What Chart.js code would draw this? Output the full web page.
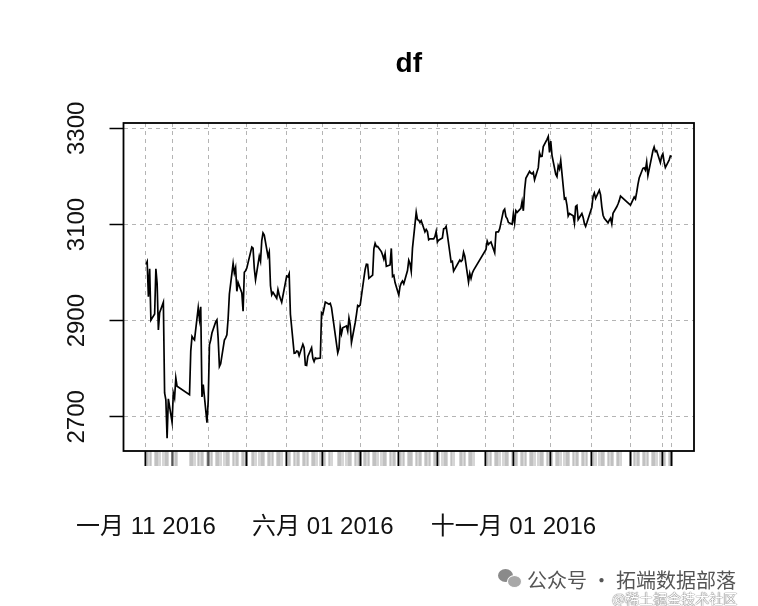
<!DOCTYPE html>
<html>
<head>
<meta charset="utf-8">
<script src="https://cdn.jsdelivr.net/npm/chart.js@4.4.0/dist/chart.umd.min.js"></script>
<style>
  body { margin: 0; background: #fff; }
  #wrap { position: relative; width: 758px; height: 606px; overflow: hidden; }
  .wm1 { position: absolute; left: 527px; top: 565px; font: 20px 'Noto Sans CJK SC', sans-serif; color: #555; white-space: nowrap; }
  .wm2 { position: absolute; left: 612px; top: 588px; font: 14px 'Noto Sans CJK SC', sans-serif; color: #fff; text-shadow: 0 0 1px #555, 0 0 1px #555; white-space: nowrap; }
  .ico1 { position: absolute; left: 498px; top: 569px; width: 15px; height: 13px; border-radius: 50%; background: #8a8a8a; }
  .ico2 { position: absolute; left: 507px; top: 575px; width: 13px; height: 11px; border-radius: 50%; background: #a8a8a8; border: 1px solid #fff; }
</style>
</head>
<body>
<div id="wrap">
  <canvas id="dfChart" width="758" height="606"></canvas>
  <span class="ico1"></span><span class="ico2"></span>
  <div class="wm1">公众号 · 拓端数据部落</div>
  <div class="wm2">@稀土掘金技术社区</div>
</div>
<script>
// trading days and closing values
var dates = [
  '2016-01-11','2016-01-12','2016-01-13','2016-01-14','2016-01-15','2016-01-18','2016-01-19','2016-01-20','2016-01-21','2016-01-22',
  '2016-01-25','2016-01-26','2016-01-27','2016-01-28','2016-01-29',
  '2016-02-01','2016-02-02','2016-02-03','2016-02-04','2016-02-05','2016-02-15','2016-02-16','2016-02-17','2016-02-18','2016-02-19',
  '2016-02-22','2016-02-23','2016-02-24','2016-02-25','2016-02-26','2016-02-29',
  '2016-03-01','2016-03-02','2016-03-03','2016-03-04','2016-03-07','2016-03-08','2016-03-09','2016-03-10','2016-03-11','2016-03-14',
  '2016-03-15','2016-03-16','2016-03-17','2016-03-18','2016-03-21','2016-03-22','2016-03-23','2016-03-24','2016-03-25','2016-03-28',
  '2016-03-29','2016-03-30','2016-03-31',
  '2016-04-01','2016-04-05','2016-04-06','2016-04-07','2016-04-08','2016-04-11','2016-04-12','2016-04-13','2016-04-14','2016-04-15',
  '2016-04-18','2016-04-19','2016-04-20','2016-04-21','2016-04-22','2016-04-25','2016-04-26','2016-04-27','2016-04-28','2016-04-29',
  '2016-05-03','2016-05-04','2016-05-05','2016-05-06','2016-05-09','2016-05-10','2016-05-11','2016-05-12','2016-05-13','2016-05-16',
  '2016-05-17','2016-05-18','2016-05-19','2016-05-20','2016-05-23','2016-05-24','2016-05-25','2016-05-26','2016-05-27','2016-05-30',
  '2016-05-31',
  '2016-06-01','2016-06-02','2016-06-03','2016-06-06','2016-06-07','2016-06-08','2016-06-13','2016-06-14','2016-06-15','2016-06-16',
  '2016-06-17','2016-06-20','2016-06-21','2016-06-22','2016-06-23','2016-06-24','2016-06-27','2016-06-28','2016-06-29','2016-06-30',
  '2016-07-01','2016-07-04','2016-07-05','2016-07-06','2016-07-07','2016-07-08','2016-07-11','2016-07-12','2016-07-13','2016-07-14',
  '2016-07-15','2016-07-18','2016-07-19','2016-07-20','2016-07-21','2016-07-22','2016-07-25','2016-07-26','2016-07-27','2016-07-28',
  '2016-07-29',
  '2016-08-01','2016-08-02','2016-08-03','2016-08-04','2016-08-05','2016-08-08','2016-08-09','2016-08-10','2016-08-11','2016-08-12',
  '2016-08-15','2016-08-16','2016-08-17','2016-08-18','2016-08-19','2016-08-22','2016-08-23','2016-08-24','2016-08-25','2016-08-26',
  '2016-08-29','2016-08-30','2016-08-31',
  '2016-09-01','2016-09-02','2016-09-05','2016-09-06','2016-09-07','2016-09-08','2016-09-09','2016-09-12','2016-09-13','2016-09-14',
  '2016-09-19','2016-09-20','2016-09-21','2016-09-22','2016-09-23','2016-09-26','2016-09-27','2016-09-28','2016-09-29','2016-09-30',
  '2016-10-10','2016-10-11','2016-10-12','2016-10-13','2016-10-14','2016-10-17','2016-10-18','2016-10-19','2016-10-20','2016-10-21',
  '2016-10-24','2016-10-25','2016-10-26','2016-10-27','2016-10-28','2016-10-31',
  '2016-11-01','2016-11-02','2016-11-03','2016-11-04','2016-11-07','2016-11-08','2016-11-09','2016-11-10','2016-11-11','2016-11-14',
  '2016-11-15','2016-11-16','2016-11-17','2016-11-18','2016-11-21','2016-11-22','2016-11-23','2016-11-24','2016-11-25','2016-11-28',
  '2016-11-29','2016-11-30',
  '2016-12-01','2016-12-02','2016-12-05','2016-12-06','2016-12-07','2016-12-08','2016-12-09','2016-12-12','2016-12-13','2016-12-14',
  '2016-12-15','2016-12-16','2016-12-19','2016-12-20','2016-12-21','2016-12-22','2016-12-23','2016-12-26','2016-12-27','2016-12-28',
  '2016-12-29','2016-12-30',
  '2017-01-03','2017-01-04','2017-01-05','2017-01-06','2017-01-09','2017-01-10','2017-01-11','2017-01-12','2017-01-13','2017-01-16',
  '2017-01-17','2017-01-18','2017-01-19','2017-01-20','2017-01-23','2017-01-24','2017-01-25','2017-01-26',
  '2017-02-03','2017-02-06','2017-02-07','2017-02-08','2017-02-09','2017-02-10','2017-02-13','2017-02-14','2017-02-15','2017-02-16',
  '2017-02-17','2017-02-20','2017-02-21','2017-02-22','2017-02-23','2017-02-24','2017-02-27','2017-02-28',
  '2017-03-01','2017-03-02','2017-03-03','2017-03-06','2017-03-07','2017-03-08'
];

var closes = [
  3016.7,3022.9,2949.6,3007.7,2901.0,2913.8,3007.7,2976.7,2880.5,2916.6,
  2938.5,2749.8,2735.6,2655.7,2737.6,
  2688.9,2749.6,2739.3,2781.0,2763.5,2746.2,2836.6,2867.3,2862.9,2860.0,
  2927.2,2903.3,2928.9,2741.3,2767.2,2688.0,
  2733.2,2849.7,2859.8,2874.2,2897.3,2901.4,2862.6,2804.7,2810.3,2859.5,
  2864.4,2870.4,2904.8,2955.2,3018.8,2999.4,3010.0,2961.0,2979.4,2957.8,
  2919.8,3000.7,3003.9,
  3009.5,3053.1,3050.6,3008.4,2985.0,3034.0,3023.7,3066.6,3082.4,3078.1,
  3033.7,3042.8,2972.6,2953.7,2959.2,2946.7,2964.7,2953.5,2945.6,2938.3,
  2992.6,2991.3,2997.8,2913.3,2832.1,2832.6,2837.0,2835.9,2827.1,2850.9,
  2843.7,2807.5,2806.9,2825.5,2843.7,2821.7,2815.1,2822.5,2821.1,2822.4,
  2916.6,
  2913.5,2925.2,2938.7,2934.1,2936.0,2927.2,2833.1,2842.2,2887.2,2872.8,
  2885.1,2888.8,2878.6,2905.6,2892.0,2854.3,2895.7,2912.6,2931.6,2929.6,
  2932.5,2988.6,3006.4,3017.3,3016.9,2988.1,2994.9,3049.4,3060.7,3054.0,
  3054.3,3043.6,3036.6,3027.9,3039.1,3012.8,3015.8,3050.2,2992.0,2994.3,
  2979.3,
  2953.4,2971.3,2978.5,2982.4,2976.7,3004.3,3025.7,3018.8,3002.6,3050.7,
  3125.2,3110.0,3109.0,3104.1,3108.1,3084.8,3089.7,3085.3,3068.3,3070.3,
  3070.0,3074.7,3085.5,
  3063.3,3067.4,3072.1,3090.7,3091.9,3096.0,3078.9,3022.0,3023.5,3002.9,
  3026.1,3023.0,3025.9,3042.3,3033.9,2980.4,2998.2,2987.9,2998.5,3004.7,
  3048.1,3065.3,3058.5,3061.4,3063.8,3041.2,3083.9,3084.7,3084.5,3090.9,
  3128.3,3131.9,3116.3,3112.4,3104.3,3100.5,
  3122.4,3102.7,3128.9,3125.3,3133.3,3147.9,3128.4,3171.3,3196.0,3210.4,
  3207.0,3205.1,3208.5,3192.9,3218.2,3248.4,3241.1,3241.7,3261.9,3277.0,
  3282.9,3250.0,
  3273.3,3243.8,3204.7,3199.7,3222.2,3215.4,3232.9,3153.0,3155.0,3140.5,
  3117.7,3123.0,3118.1,3102.9,3137.4,3139.6,3110.2,3122.6,3114.7,3102.2,
  3096.1,3103.6,
  3135.9,3158.8,3165.4,3154.3,3171.2,3161.7,3136.8,3119.3,3112.8,3103.4,
  3108.8,3113.0,3101.3,3123.1,3136.8,3142.6,3149.6,3159.2,
  3140.2,3157.0,3153.1,3167.0,3183.2,3196.7,3216.8,3217.9,3213.0,3229.6,
  3202.1,3240.0,3253.3,3261.2,3251.4,3253.4,3228.7,3241.7,
  3246.9,3230.0,3218.3,3233.9,3242.4,3240.7
];

// first trading day of each month (plus the last day) get a grid line and a black tick
var majorDates = ['2016-01-11','2016-02-01','2016-03-01','2016-04-01','2016-05-03','2016-06-01','2016-07-01','2016-08-01',
  '2016-09-01','2016-10-10','2016-11-01','2016-12-01','2017-01-03','2017-02-03','2017-03-01','2017-03-08'];
var labelDates = ['2016-01-11','2016-06-01','2016-11-01'];
var labelTexts = ['一月 11 2016','六月 01 2016','十一月 01 2016'];
var yTicks = [2700, 2800, 2900, 3000, 3100, 3200, 3300];
var yLabelled = [2700, 2900, 3100, 3300];

var DAY = 86400000;
var origin = Date.parse('2016-01-11');
function dayOf(s) { return Math.round((Date.parse(s) - origin) / DAY); }

var points = dates.map(function (d, i) { return { x: dayOf(d), y: closes[i] }; });
var tickDays = dates.map(dayOf);
var majorDays = majorDates.map(dayOf);
var labelDays = labelDates.map(dayOf);
function isMajor(v) { return majorDays.indexOf(v) >= 0; }

var fontFam = "'Liberation Sans', 'Noto Sans CJK SC', Arial, sans-serif";
var gridGrey = '#b4b4b4';

var boxPlugin = {
  id: 'box',
  afterDraw: function (chart) {
    var a = chart.chartArea, ctx = chart.ctx;
    ctx.save();
    ctx.strokeStyle = '#000';
    ctx.lineWidth = 1.8;
    ctx.strokeRect(a.left, a.top, a.right - a.left, a.bottom - a.top);
    ctx.restore();
  }
};

var ctx = document.getElementById('dfChart').getContext('2d');
var dfChart = new Chart(ctx, {
  type: 'line',
  data: {
    datasets: [{
      data: points,
      borderColor: '#000',
      borderWidth: 1.7,
      pointRadius: 0,
      tension: 0,
      fill: false
    }]
  },
  options: {
    responsive: false,
    animation: false,
    layout: { padding: { left: 0, right: 64, top: 0, bottom: 0 } },
    plugins: {
      legend: { display: false },
      tooltip: { enabled: false },
      title: {
        display: true,
        text: 'df',
        fullSize: false,
        color: '#000',
        font: { family: fontFam, size: 28, weight: 'bold' },
        padding: { top: 47, bottom: 42.4 }
      }
    },
    scales: {
      x: {
        type: 'linear',
        min: -18,
        max: 440,
        afterBuildTicks: function (s) { s.ticks = tickDays.map(function (v) { return { value: v }; }); },
        afterFit: function (s) { s.height = 155; s.paddingLeft = 0; s.paddingRight = 0; },
        grid: {
          color: gridGrey,
          lineWidth: function (c) { return isMajor(c.tick.value) ? 1 : 0; },
          tickLength: 15,
          tickWidth: function (c) { return isMajor(c.tick.value) ? 2 : 1; },
          tickColor: function (c) { return isMajor(c.tick.value) ? '#000' : '#adadad'; }
        },
        border: { display: false, dash: [4, 4] },
        ticks: {
          autoSkip: false,
          minRotation: 0,
          maxRotation: 0,
          padding: 47,
          color: '#111',
          font: { family: fontFam, size: 24 },
          callback: function (v) {
            var i = labelDays.indexOf(v);
            return i >= 0 ? labelTexts[i] : '';
          }
        }
      },
      y: {
        min: 2629,
        max: 3311,
        afterBuildTicks: function (s) { s.ticks = yTicks.map(function (v) { return { value: v }; }); },
        afterFit: function (s) { s.width = 123.5; s.paddingTop = 0; s.paddingBottom = 0; },
        grid: {
          color: gridGrey,
          lineWidth: 1,
          tickLength: 14,
          tickWidth: 1.5,
          tickColor: '#000'
        },
        border: { display: false, dash: [4, 4] },
        ticks: {
          minRotation: 90,
          maxRotation: 90,
          crossAlign: 'center',
          padding: 5,
          color: '#111',
          font: { family: fontFam, size: 24 },
          callback: function (v) { return yLabelled.indexOf(v) >= 0 ? String(v) : ''; }
        }
      }
    }
  },
  plugins: [boxPlugin]
});
</script>
</body>
</html>
